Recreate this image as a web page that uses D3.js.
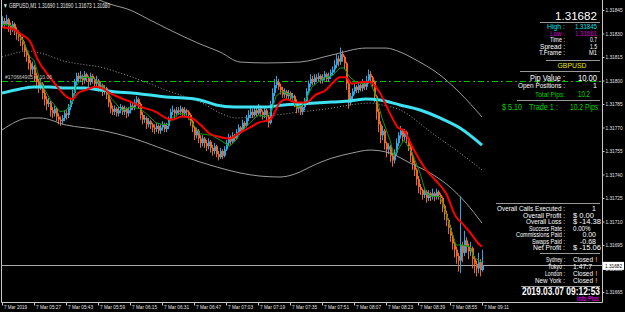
<!DOCTYPE html>
<html>
<head>
<meta charset="utf-8">
<script src="https://cdn.jsdelivr.net/npm/d3@7"></script>
<style>
  body { margin: 0; background: #000; }
  svg { display: block; }
  text { font-family: "Liberation Sans", Arial, sans-serif; }
</style>
</head>
<body>
<div id="chart"></div>
<script>
// prices are in points (0.00001) above 1.31600
const base = 1.316

const timeLabels = ["7 Mar 2019","7 Mar 05:27","7 Mar 05:43","7 Mar 05:59","7 Mar 06:15","7 Mar 06:31",
  "7 Mar 06:47","7 Mar 07:03","7 Mar 07:19","7 Mar 07:35","7 Mar 07:51","7 Mar 08:07","7 Mar 08:23",
  "7 Mar 08:39","7 Mar 08:55","7 Mar 09:11"]
const priceTicks = [65,80,95,110,125,140,155,170,185,200,215,230,245]

const opens = [236,238,236,239,235,233,236,232,230,228,226,
  223,219,216,211,207,209,203,199,196,198, 192,188,185,186,181,179,182,177,
  175,174,176,179,178,183, 187,192,199,203, 201,203,200,204,202,199,203,201,
  198,200,196,197,193,195, 191,186,182, 180,182,179,181,183,180,182,179,181,184,
  183,186,188, 185,178,175,176,172, 174,172,170,169,171,168,170,172,169,171,
  175,180,181, 179,181,180,182,179,181,180, 178,174,170,165,168,163,
  160,163,160,158,161, 157,155,158,153,151,155,152, 156,160,164,161,165,
  163,167,170,168,173,171,176, 178,180,178,181,179,182,180,178,181,177,
  173,185,192,197,199, 196,194,191,193,190,192,189, 190,186,182,184,180,183,
  187,193,198,201,199, 202,201,203,200,202,204,201,203,205, 207,210,214,212,217,215,
  211,198,186, 190,193,196,194,197,195,198, 196,200,204,202, 199,190,180,
  172,165,168,160,156, 158,152,149, 154,160,165,168,164,167, 163,158,152,147,143,137,
  132,130,127,129,125,128, 126,128,126,129,127, 125,120,115,111,106,
  101,96,92,88, 85,95, 90,98,94,91, 93,86,83,80,84,79]
const highs = [241,240,242,240,237,238,237,234,232,230,228,
  225,221,217,213,212,210,205,201,201,199, 194,190,189,187,183,184,183,179,
  177,178,181,181,185,189, 194,201,205,205, 206,204,206,205,203,205,204,202,
  203,201,199,198,197,196, 192,188,184, 184,183,183,185,184,184,183,183,186,186,
  188,190,189, 186,180,178,177,176, 175,173,172,173,172,172,174,173,173,177,
  182,184,182, 183,183,184,183,183,182,181, 179,175,171,170,169,165,
  165,164,162,163,162, 159,160,159,155,157,156,158, 162,166,165,167,166,
  169,172,171,175,174,178,181, 183,182,183,183,185,184,181,183,182,178,
  187,195,201,203,201, 198,196,195,194,194,193,192, 191,188,186,185,185,189,
  195,200,204,203,204, 204,205,204,204,206,205,205,207,209, 213,217,216,221,219,216,
  212,199,192, 195,198,197,199,198,201,199, 203,207,206,203, 200,191,182,
  174,171,169,161,160, 159,154,156, 163,167,171,169,169,168, 164,159,154,149,144,139,
  134,131,131,130,130,129, 131,129,131,130,128, 126,121,117,112,108,
  103,97,94,90, 126,97, 104,100,96,97, 94,88,85,90,86,92]
const lows = [234,233,235,231,229,231,229,226,225,222,219,
  215,212,207,203,204,199,195,192,194,188, 184,181,183,177,176,177,174,172,
  171,172,174,175,176,181, 185,190,197,199, 199,197,198,199,196,197,198,194,
  196,193,193,190,191,188, 183,179,178, 178,177,177,179,178,178,176,177,179,181,
  181,184,182, 175,172,173,169,170, 169,167,166,167,166,166,168,167,167,169,
  174,178,176, 177,178,178,177,177,178,175, 171,167,162,163,160,157,
  158,157,155,156,154, 152,153,151,149,150,150,151, 155,158,159,160,161,
  162,165,166,167,169,170,174, 176,176,177,177,178,178,175,176,174,170,
  172,183,190,195,194, 191,189,189,188,188,187,187, 183,179,180,178,178,181,
  185,191,196,197,197, 199,199,198,198,200,199,199,201,203, 205,208,209,210,212,207,
  194,182,184, 188,191,192,192,193,193,194, 194,198,199,196, 186,175,167,
  160,162,156,151,153, 148,145,147, 152,158,163,161,162,160, 155,148,143,139,133,128,
  127,124,125,122,123,123, 124,123,124,124,121, 116,111,107,102,97,
  92,87,83,78, 77,84, 88,90,86,88, 80,77,75,77,75,78]
const closes = [238,236,239,235,233,236,232,230,228,226,223,
  219,216,211,207,209,203,199,196,198,192, 188,185,186,181,179,182,177,175,
  174,176,179,178,183,187, 192,199,203,201, 203,200,204,202,199,203,201,198,
  200,196,197,193,195,191, 186,182,180, 182,179,181,183,180,182,179,181,184,183,
  186,188,185, 178,175,176,172,174, 172,170,169,171,168,170,172,169,171,175,
  180,181,179, 181,180,182,179,181,180,178, 174,170,165,168,163,160,
  163,160,158,161,157, 155,158,153,151,155,152,156, 160,164,161,165,163,
  167,170,168,173,171,176,178, 180,178,181,179,182,180,178,181,177,173,
  185,192,197,199,196, 194,191,193,190,192,189,190, 186,182,184,180,183,187,
  193,198,201,199,202, 201,203,200,202,204,201,203,205,207, 210,214,212,217,215,211,
  198,186,190, 193,196,194,197,195,198,196, 200,204,202,199, 190,180,172,
  165,168,160,156,158, 152,149,154, 160,165,168,164,167,163, 158,152,147,143,137,132,
  130,127,129,125,128,126, 128,126,129,127,125, 120,115,111,106,101,
  96,92,88,85, 95,90, 98,94,91,93, 86,83,80,84,79,82]

// indicator lines: [bar, points]
const redMA = [[0,234],[5,233],[9,230],[14,225],[18,213],[24,202],[29,194],[33,189],[35,188],[38,192],
  [42,194],[47,196],[50,195],[54,192],[59,189],[65,186],[70,183],[77,180],[82,176],[85,175],[90,177],
  [95,176],[99,172],[104,166],[109,164],[114,163],[118,166],[124,170],[128,173],[134,175],[139,186],
  [142,188],[147,186],[152,186],[157,191],[162,194],[165,198],[169,202],[172,202],[175,198],[180,199],
  [184,199],[189,192],[194,179],[198,170],[201,168],[205,158],[212,143],[217,136],[222,128],[227,113],
  [230,109],[234,103],[239,95],[240,94]]
const greenMA = [[0,236],[5,235],[8,230],[11,224],[14,215],[16,213],[19,200],[24,188],[29,180],[32,181],
  [35,186],[37,196],[40,202],[45,202],[49,198],[52,194],[55,188],[60,181],[65,183],[69,182],[72,179],
  [77,173],[80,172],[83,172],[85,176],[89,179],[92,178],[95,173],[99,166],[105,165],[109,162],[114,158],
  [117,162],[120,168],[124,173],[128,178],[132,177],[135,181],[137,190],[140,193],[144,191],[147,183],
  [150,184],[152,188],[155,196],[159,200],[162,202],[165,203],[169,208],[171,208],[174,202],[177,199],
  [180,198],[184,199],[187,190],[190,176],[194,162],[196,152],[199,158],[201,162],[205,154],[209,141],
  [212,128],[215,126],[219,126],[222,115],[225,103],[227,95],[230,95],[234,94],[236,87],[240,84]]
const slowMA = [[0,192],[9,194.6],[16,195.9],[24,195.9],[32,195.2],[41,195.2],[49,194],[57,192.7],
  [65,192],[74,190.7],[82,189.5],[91,188.8],[99,187.6],[107,184.4],[116,183.1],[124,183.1],[132,183.1],
  [141,184.4],[149,185],[157,185.6],[165,186.3],[174,186.9],[182,188.2],[189,187.6],[199,184.4],
  [209,181.2],[219,176.1],[229,169.7],[240,158.8]]
const upperBand = [[40,256],[54,248.8],[64,245],[74,238.6],[84,232.2],[99,223.3],[109,218.2],[119,211.8],
  [132,211.2],[149,211.8],[165,216.3],[182,220.7],[192,220.7],[199,218.2],[207,213.1],[219,203.5],
  [229,192],[240,176.7]]
const midBand = [[0,215],[7,217.6],[13,218.8],[19,217.6],[24,215.6],[29,213.1],[39,210.5],[49,208.6],
  [59,204.8],[69,200.3],[82,193.9],[92,189.5],[99,186.3],[109,179.3],[117,176.1],[132,177.3],[149,179.9],
  [165,182.4],[174,184.4],[184,185.6],[190,184.4],[199,181.2],[215,166.5],[229,153.7],[240,142.9]]
const lowerBand = [[0,168.4],[14,176.1],[19,176.1],[32,171.6],[49,168.4],[65,163.3],[82,155.6],[99,148],
  [109,144.2],[119,141],[129,139],[139,138.4],[149,141.6],[154,144.8],[165,150.5],[175,153.7],[184,155.6],
  [194,153.7],[204,147.3],[214,141],[224,132],[232,121.8],[240,109]]

const bid = 82
const tpLevel = 200

var width = 625, height = 312
var plotLeft = 2, plotRight = 602, plotBottom = 302

const svg = d3.select('#chart').append('svg')
  .attr('width', width).attr('height', height)
  .style('background', '#000')

const x = d3.scaleLinear().domain([0, 240]).range([2, 482])
const y = d3.scaleLinear().domain([65, 245]).range([292, 10])
const fmt = d => (base + d / 100000).toFixed(5)

svg.append('clipPath').attr('id', 'plot')
  .append('rect').attr('x', plotLeft).attr('y', 0)
  .attr('width', plotRight - plotLeft).attr('height', plotBottom)

const plot = svg.append('g').attr('clip-path', 'url(#plot)')

// horizontal levels
plot.append('line')
  .attr('x1', plotLeft).attr('x2', plotRight)
  .attr('y1', Math.round(y(tpLevel)) + 0.5).attr('y2', Math.round(y(tpLevel)) + 0.5)
  .attr('stroke', '#00c000').attr('stroke-dasharray', '6,3,2,3')
plot.append('line')
  .attr('x1', plotLeft).attr('x2', plotRight)
  .attr('y1', Math.round(y(bid)) + 0.5).attr('y2', Math.round(y(bid)) + 0.5)
  .attr('stroke', '#a8a8a8')

// candles
var bars = d3.range(closes.length)
plot.selectAll('line.wick').data(bars).enter().append('line')
  .attr('class', 'wick')
  .attr('x1', i => Math.round(x(i)) + 0.5).attr('x2', i => Math.round(x(i)) + 0.5)
  .attr('y1', i => y(highs[i])).attr('y2', i => y(lows[i]))
  .attr('stroke', i => closes[i] >= opens[i] ? '#2aa7e8' : '#f26522')
plot.selectAll('rect.body').data(bars).enter().append('rect')
  .attr('class', 'body')
  .attr('x', i => Math.round(x(i)))
  .attr('width', 2)
  .attr('y', i => y(Math.max(opens[i], closes[i])))
  .attr('height', i => Math.max(1, Math.abs(y(opens[i]) - y(closes[i]))))
  .attr('fill', i => closes[i] >= opens[i] ? '#2aa7e8' : '#f26522')

const smooth = d3.line().x(d => x(d[0])).y(d => y(d[1])).curve(d3.curveMonotoneX)
const straight = d3.line().x(d => x(d[0])).y(d => y(d[1]))

plot.append('path').attr('d', smooth(upperBand))
  .attr('fill', 'none').attr('stroke', '#9a9a9a').attr('stroke-width', 1)
plot.append('path').attr('d', smooth(lowerBand))
  .attr('fill', 'none').attr('stroke', '#9a9a9a').attr('stroke-width', 1)
plot.append('path').attr('d', smooth(midBand))
  .attr('fill', 'none').attr('stroke', '#9a9a9a').attr('stroke-width', 1)
  .attr('stroke-dasharray', '1,2')
plot.append('path').attr('d', smooth(slowMA))
  .attr('fill', 'none').attr('stroke', '#3de1f2').attr('stroke-width', 3)
plot.append('path').attr('d', straight(greenMA))
  .attr('fill', 'none').attr('stroke', '#0c9c0c').attr('stroke-width', 1)
plot.append('path').attr('d', smooth(redMA))
  .attr('fill', 'none').attr('stroke', '#ff0000').attr('stroke-width', 2)

// frame
svg.append('path')
  .attr('d', 'M1.5,0V' + (plotBottom + 0.5) + 'H' + (plotRight + 0.5) + 'V0')
  .attr('fill', 'none').attr('stroke', '#c8c8c8')

// squeezed text, MT4 fonts are narrow
function txt (xx, yy, s, size, color, w, anchor, bold) {
  var t = svg.append('text').attr('x', xx).attr('y', yy)
    .attr('text-anchor', anchor || 'start')
    .attr('fill', color).style('font-size', size + 'px').text(s)
  if (w) t.attr('textLength', w).attr('lengthAdjust', 'spacingAndGlyphs')
  if (bold) t.style('font-weight', 'bold')
  return t
}

// price axis
const yAxis = d3.axisRight(y).tickValues(priceTicks).tickFormat(fmt).tickSize(2).tickPadding(1)
svg.append('g')
  .attr('transform', 'translate(' + (plotRight + 0.5) + ',0)')
  .call(yAxis)
  .call(g => g.select('.domain').remove())
  .call(g => g.selectAll('line').attr('stroke', '#c8c8c8'))
  .call(g => g.selectAll('text').attr('fill', '#e0e0e0').style('font-size', '5.5px')
    .attr('textLength', 17).attr('lengthAdjust', 'spacingAndGlyphs'))

// bid label
svg.append('rect').attr('x', plotRight + 1).attr('y', y(bid) - 3.5)
  .attr('width', 21).attr('height', 8).attr('fill', '#fff')
txt(plotRight + 3, y(bid) + 2.5, fmt(bid), 5.5, '#000', 17)

// time axis
const xAxis = d3.axisBottom(x).tickValues(d3.range(0, 241, 16))
  .tickFormat((d, i) => timeLabels[i]).tickSize(3).tickPadding(0)
svg.append('g')
  .attr('transform', 'translate(0,' + (plotBottom + 0.5) + ')')
  .call(xAxis)
  .call(g => g.select('.domain').remove())
  .call(g => g.selectAll('line').attr('stroke', '#c8c8c8'))
  .call(g => g.selectAll('text').attr('fill', '#e0e0e0').attr('text-anchor', 'start')
    .attr('dx', 1.5).attr('dy', '0.6em').style('font-size', '5.5px')
    .attr('textLength', (d, i) => i == 0 ? 23 : 25).attr('lengthAdjust', 'spacingAndGlyphs'))

// header and order label
txt(3, 8, '\u25BC GBPUSD,M1  1.31690 1.31690 1.31673 1.31680', 6.5, '#e8e8e8', 107)
txt(5, y(tpLevel) - 2, '#170664905 sl 10.06', 6, '#c8c8c8', 47)

// info panel
const labelX = 565, valueX = 597
function sep (yy, x1) {
  svg.append('line').attr('x1', x1).attr('x2', 600).attr('y1', yy).attr('y2', yy)
    .attr('stroke', '#9a9a9a')
}

txt(valueX, 20, fmt(bid), 11.5, '#fff', 42, 'end')
sep(22.5, 540)
txt(labelX, 29, 'High :', 7, '#00e0e0', 18, 'end')
txt(valueX, 29, fmt(245), 7, '#00e0e0', 22, 'end')
txt(labelX, 35.5, 'Low :', 7, '#d000d0', 15, 'end')
txt(valueX, 35.5, '1.31661', 7, '#d000d0', 22, 'end')
txt(labelX, 42, 'Time :', 7, '#fff', 15, 'end')
txt(valueX, 42, '0.7', 7, '#fff', 7, 'end')
txt(labelX, 48.5, 'Spread :', 7, '#fff', 25, 'end')
txt(valueX, 48.5, '1.5', 7, '#fff', 7, 'end')
txt(labelX, 55, 'T.Frame :', 7, '#fff', 26, 'end')
txt(valueX, 55, 'M1', 7, '#fff', 8, 'end')
sep(60.5, 546)
txt(572, 68, 'GBPUSD', 8, '#e6e600', 29, 'middle')
sep(71.5, 520)
txt(labelX, 81, 'Pip Value :', 9, '#fff', 35, 'end')
txt(valueX, 81, '10.00', 9, '#fff', 19, 'end')
txt(labelX, 88, 'Open Positions :', 7, '#fff', 47, 'end')
txt(valueX, 88, '1', 7, '#fff', 0, 'end')
txt(labelX, 97, 'Total Pips:', 8, '#00d000', 30, 'end')
txt(590, 97, '10.2', 8.5, '#00d000', 12, 'end')
sep(100.5, 517)
txt(502, 110, '$ 5.10', 9, '#00d000', 20)
txt(529, 110, 'Trade 1 :', 9, '#00d000', 29)
txt(598, 110, '10.2 Pips', 9, '#00d000', 28, 'end')

sep(203.5, 496)
const statLabels = ['Overall Calls Executed :', 'Overall Profit :', 'Overall Loss :', 'Success Rate :',
  'Commissions Paid :', 'Swaps Paid :', 'Net Profit :']
const statValues = ['1', '$ 0.00', '$ -14.38', '0.00%', '0.00', '-0.68', '$ -15.06']
const statLabelW = [68, 42, 39, 36, 49, 33, 32]
statLabels.forEach((l, i) => {
  var yy = 211 + i * 6.5
  txt(labelX, yy, l, 7, '#fff', statLabelW[i], 'end')
  if (statValues[i][0] == '$' || statValues[i].endsWith('%'))
    txt(573, yy, statValues[i], 7, '#fff', statValues[i].length * 3.5)
  else
    txt(596, yy, statValues[i], 7, '#fff', 0, 'end')
})
sep(253.5, 540)
const sessions = ['Sydney :', 'Tokyo :', 'London :', 'New York :']
const sessionW = [19, 17, 20, 30]
const sessionState = ['Closed', '1:47:7', 'Closed', 'Closed']
sessions.forEach((s, i) => {
  var yy = 262 + i * 7
  txt(labelX, yy, s, 8, '#fff', sessionW[i], 'end')
  if (sessionState[i] == 'Closed') {
    txt(573, yy, 'Closed', 8, '#fff', 20)
    txt(595, yy, '!', 8, '#ff9a30', 2.5)
  } else {
    txt(573, yy, sessionState[i], 8, '#fff', 19)
  }
})
sep(286.5, 521)
txt(600, 294.5, '2019.03.07 09:12:53', 10, '#fff', 78, 'end', true)
txt(599, 300.5, 'Info Plus', 6.5, '#d000d0', 22, 'end', true)
</script>
</body>
</html>
